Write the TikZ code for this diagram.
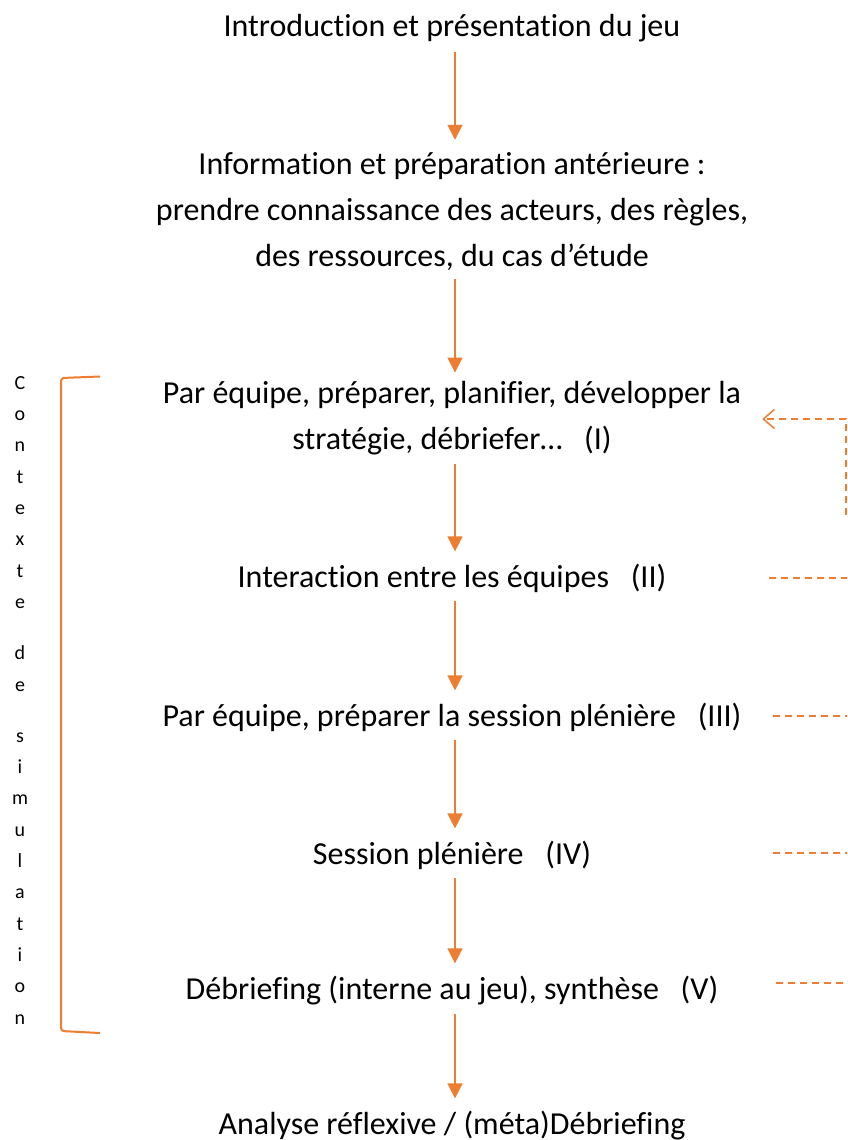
\documentclass[tikz,border=0pt]{standalone}
\usepackage{fontspec}
\setmainfont{Carlito}[Ligatures={NoCommon}]
\usetikzlibrary{arrows.meta}
\definecolor{orng}{HTML}{ED7D31}
\begin{document}
\begin{tikzpicture}[x=1pt,y=-1pt,
  txt/.style={font=\fontsize{32}{46}\selectfont, inner sep=0pt, align=center, anchor=base},
  flow/.style={draw=orng, line width=1.5pt, -{Triangle[width=15pt,length=15pt]}, shorten <=9pt, shorten >=12pt},
  fb/.style={draw=orng, line width=1.5pt, dash pattern=on 7pt off 5pt},
  vtxt/.style={font=\fontsize{20}{31.3}\selectfont, align=center, inner sep=0pt, anchor=north},
]
\useasboundingbox (0,0) rectangle (847,1140);
\coordinate (ax) at (455,0);
% main steps (base anchor = baseline of the last line)
\node[txt] (intro) at (452,37) {Introduction et présentation du jeu};
\node[txt] (info) at (452,266) {Information et préparation antérieure :\\prendre connaissance des acteurs, des règles,\\des ressources, du cas d’étude};
\node[txt] (s1) at (452,449) {Par équipe, préparer, planifier, développer la\\stratégie, débriefer…\ \ \ (I)};
\node[txt] (s2) at (452,587) {Interaction entre les équipes\ \ \ (II)};
\node[txt] (s3) at (452,726) {Par équipe, préparer la session plénière\ \ \ (III)};
\node[txt] (s4) at (452,864) {Session plénière\ \ \ (IV)};
\node[txt] (s5) at (452,999) {Débriefing (interne au jeu), synthèse\ \ \ (V)};
\node[txt] (ana) at (452,1134) {Analyse réflexive / (méta)Débriefing};
% flow arrows
\draw[flow] (intro.south -| ax) -- (info.north -| ax);
\draw[flow, shorten >=8pt] (info.south -| ax) -- (s1.north -| ax);
\draw[flow] (s1.south -| ax) -- (s2.north -| ax);
\draw[flow] (s2.south -| ax) -- (s3.north -| ax);
\draw[flow] (s3.south -| ax) -- (s4.north -| ax);
\draw[flow] (s4.south -| ax) -- (s5.north -| ax);
\draw[flow] (s5.south -| ax) -- (ana.north -| ax);
% bracket and vertical label
\draw[orng, line width=2pt, rounded corners=3pt] (100,376.5) -- (61,378) -- (61,1031) -- (100,1033);
\node[vtxt] (ctx) at (20,376.2) {C\\o\\n\\t\\e\\x\\t\\e\\[20pt]d\\e\\[20pt]s\\i\\m\\u\\l\\a\\t\\i\\o\\n};
% feedback dashed connectors
\coordinate (fbbot) at (846,515);
\coordinate (fbtop) at (846,419);
\draw[fb, -{Straight Barb[length=11pt,width=19pt]}, shorten >=21pt] (fbbot) -- (fbtop) -- (fbtop -| s1.east);
\coordinate (e2) at (847,578);
\coordinate (e3) at (847,716);
\coordinate (e4) at (847,853);
\coordinate (e5) at (847,983);
\draw[fb, shorten <=102pt] (s2.east |- e2) -- (e2);
\draw[fb, shorten <=31pt] (s3.east |- e3) -- (e3);
\draw[fb, shorten <=182pt] (s4.east |- e4) -- (e4);
\draw[fb, shorten <=58pt] (s5.east |- e5) -- (e5);
\end{tikzpicture}
\end{document}
